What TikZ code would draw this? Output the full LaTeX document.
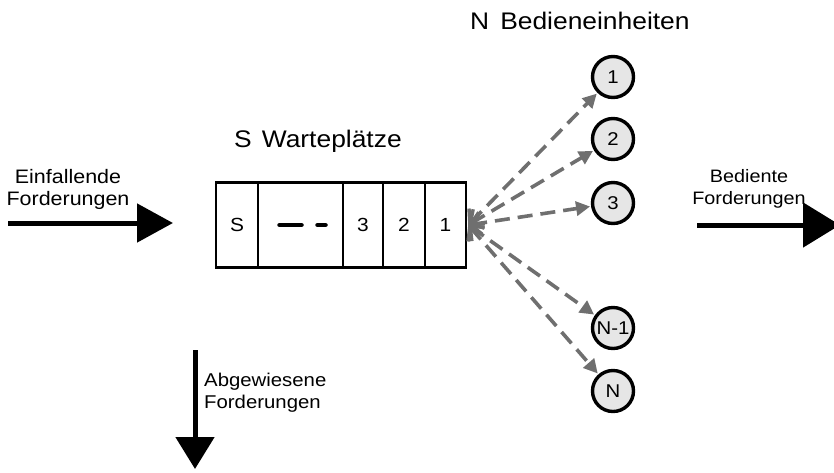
\documentclass[tikz,border=0pt]{standalone}
\usepackage{fontspec}
\setmainfont{Liberation Sans}[FakeStretch=1.1]
\usetikzlibrary{arrows.meta}
\definecolor{arrgray}{HTML}{6F6F6F}
\definecolor{circfill}{HTML}{E6E6E6}
\begin{document}
\begin{tikzpicture}[x=1pt,y=-1pt,
  cell/.style={draw, line width=2.5, minimum height=85, inner sep=0, font=\fontsize{19}{22}\selectfont},
  server/.style={circle, draw, line width=3.4, fill=circfill, minimum size=41, inner sep=0, font=\fontsize{18.5}{20}\selectfont},
  srv/.style={draw=arrgray, line width=3.6, dash pattern=on 15 off 8,
     arrows={Straight Barb[length=10,width=22,line width=3.4]-Triangle[length=14,width=14]}},
  flow/.style={line width=5, -{Triangle[length=36,width=38]}},
  lbl/.style={font=\fontsize{19.5}{22}\selectfont, align=center, inner sep=0},
  title/.style={font=\fontsize{24}{27}\selectfont, inner sep=0}]
\useasboundingbox (0,0) rectangle (834,472);

% queue
\node[cell, minimum width=42] (cS) at (237,225) {S};
\node[cell, minimum width=85] (cD) at (300.5,225) {};
\node[cell, minimum width=40] (c3) at (363,225) {3};
\node[cell, minimum width=42] (c2) at (404,225) {2};
\node[cell, minimum width=41] (c1) at (445.5,225) {1};
\draw[line width=4.5, line cap=round] ([xshift=-21]cD.center) -- ([xshift=1]cD.center);
\draw[line width=4.5, line cap=round] ([xshift=17]cD.center) -- ([xshift=25]cD.center);

% servers
\node[server] (k1) at (613,77) {1};
\node[server] (k2) at (613,139) {2};
\node[server] (k3) at (613,203) {3};
\node[server] (kN1) at (613,328) {N-1};
\node[server] (kN) at (613,391) {N};

\coordinate (o) at ([xshift=1]c1.east);
\foreach \k in {k1,k2,k3,kN1,kN}
  \draw[srv, shorten >=1] (o) -- (\k);

% titles
\node[title, anchor=base west] (tN) at (470,29) {N\hspace{11pt}Bedieneinheiten};
\node[title, anchor=base west] (tS) at (234,147) {S\hspace{10pt}Warteplätze};

% flows
\coordinate (inA) at (8,223);
\coordinate (inB) at (173,223);
\draw[flow] (inA) -- (inB);
\node[lbl] (lin) at (68,189) {Einfallende\\Forderungen};

\coordinate (outA) at (697,225);
\coordinate (outB) at (840,225);
\draw[flow, -{Triangle[length=37,width=44]}] (outA) -- (outB);
\node[lbl, font=\fontsize{18}{22}\selectfont] (lout) at (749,189) {Bediente\\Forderungen};

\coordinate (rejA) at (195,350);
\coordinate (rejB) at (195,469);
\draw[flow, -{Triangle[length=32,width=38]}] (rejA) -- (rejB);
\node[lbl, font=\fontsize{18.5}{22}\selectfont, anchor=west, align=left] (lrej) at (204,393) {Abgewiesene\\Forderungen};
\end{tikzpicture}
\end{document}
